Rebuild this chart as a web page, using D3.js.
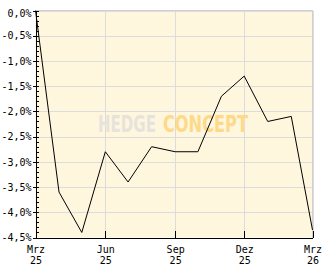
<!DOCTYPE html>
<html>
<head>
<meta charset="utf-8">
<script src="https://cdn.jsdelivr.net/npm/d3@7"></script>
<style>
  body { margin: 0; background: #fff; }
  svg { display: block; }
  text { font-family: "DejaVu Sans Mono", monospace; font-size: 10px; fill: #000; }
</style>
</head>
<body>
<svg id="chart" width="332" height="269"></svg>
<script>
// monthly performance, Mar 2025 .. Mar 2026
const months = ["2025-03", "2025-04", "2025-05", "2025-06", "2025-07", "2025-08", "2025-09",
                "2025-10", "2025-11", "2025-12", "2026-01", "2026-02", "2026-03"];
const values = [0.0, -3.6, -4.4, -2.8, -3.4, -2.7, -2.8, -2.8, -1.7, -1.3, -2.2, -2.1, -4.35];

const yTicks = [0, -0.5, -1.0, -1.5, -2.0, -2.5, -3.0, -3.5, -4.0, -4.5];
const xTickMonths = ["2025-03", "2025-06", "2025-09", "2025-12", "2026-03"];
const xTickLabels = [["Mrz", "25"], ["Jun", "25"], ["Sep", "25"], ["Dez", "25"], ["Mrz", "26"]];

const parse = d3.timeParse("%Y-%m");
const data = months.map((m, i) => ({ date: parse(m), value: values[i] }));

const svg = d3.select("#chart");
const plot = { left: 35.5, right: 312.5, top: 10.5, bottom: 237.5 };

const x = d3.scaleTime()
  .domain([parse(months[0]), parse(months[months.length - 1])])
  .range([plot.left, plot.right]);

const y = d3.scaleLinear()
  .domain([-4.5, 0])
  .range([plot.bottom, plot.top]);

const fmt = d => d.toFixed(1).replace(".", ",") + "%";

// plot background
svg.append("rect")
  .attr("x", plot.left).attr("y", plot.top)
  .attr("width", plot.right - plot.left).attr("height", plot.bottom - plot.top)
  .attr("fill", "#fff6de");

// grid
svg.append("g")
  .attr("transform", `translate(${plot.left},0)`)
  .call(d3.axisLeft(y).tickValues(yTicks).tickSize(-(plot.right - plot.left)).tickFormat(""))
  .call(g => g.select(".domain").remove())
  .call(g => g.selectAll("line").attr("stroke", "#dcdcdc").attr("shape-rendering", "crispEdges"));

svg.append("g")
  .attr("transform", `translate(0,${plot.bottom})`)
  .call(d3.axisBottom(x).tickValues(xTickMonths.map(parse)).tickSize(-(plot.bottom - plot.top)).tickFormat(""))
  .call(g => g.select(".domain").remove())
  .call(g => g.selectAll("line").attr("stroke", "#dcdcdc").attr("shape-rendering", "crispEdges"));

// border top / right
svg.append("path")
  .attr("d", `M${plot.left},${plot.top}H${plot.right}V${plot.bottom}`)
  .attr("fill", "none")
  .attr("stroke", "#d0d0d0")
  .attr("shape-rendering", "crispEdges");

// watermark, each word squeezed to its width in the logo
const logo = [
  { text: "HEDGE", x: 98, w: 58, color: "#e6e3dc" },
  { text: "CONCEPT", x: 163, w: 85, color: "#fdd98a" }
];
logo.forEach(l => {
  const t = svg.append("text")
    .style("font-family", "'DejaVu Sans Condensed', sans-serif")
    .style("font-size", "23px").style("font-weight", "bold")
    .style("fill", l.color)
    .text(l.text);
  const k = l.w / t.node().getComputedTextLength();
  t.attr("transform", `translate(${l.x},132) scale(${k},1)`);
});

// line
const line = d3.line()
  .x(d => x(d.date))
  .y(d => y(d.value));

svg.append("path")
  .datum(data)
  .attr("fill", "none")
  .attr("stroke", "#000")
  .attr("stroke-width", 1)
  .attr("d", line);

// y axis: minor ticks inside
const minor = d3.range(0, 46).map(i => -i / 10);
svg.append("g")
  .attr("transform", `translate(${plot.left},0)`)
  .call(d3.axisRight(y).tickValues(minor).tickSize(3).tickFormat(""))
  .call(g => g.select(".domain").remove())
  .call(g => g.selectAll("line").attr("shape-rendering", "crispEdges"));

// y axis: major ticks + labels
svg.append("g")
  .attr("transform", `translate(${plot.left},0)`)
  .call(d3.axisLeft(y).tickValues(yTicks).tickSizeInner(3).tickSizeOuter(0).tickPadding(1).tickFormat(fmt))
  .call(g => g.selectAll("line, path").attr("shape-rendering", "crispEdges"))
  .call(g => g.selectAll("text")
    .style("font-family", "'DejaVu Sans Mono', monospace")
    .style("font-size", "10px")
    .attr("fill", "#000")
    .attr("dy", d => d === 0 ? "0.62em" : "0.32em"));

// x axis
svg.append("g")
  .attr("transform", `translate(0,${plot.bottom})`)
  .call(d3.axisBottom(x).tickValues(xTickMonths.map(parse)).tickSizeInner(-7).tickSizeOuter(0).tickPadding(8).tickFormat(""))
  .call(g => g.selectAll("line, path").attr("shape-rendering", "crispEdges"))
  .call(g => g.selectAll(".tick text")
    .style("font-family", "'DejaVu Sans Mono', monospace")
    .style("font-size", "10px")
    .attr("fill", "#000")
    .attr("dy", null)
    .attr("y", 15)
    .each(function(d, i) {
      const t = d3.select(this);
      t.append("tspan").attr("x", 0).text(xTickLabels[i][0]);
      t.append("tspan").attr("x", 0).attr("dy", 11).text(xTickLabels[i][1]);
    }));
</script>
</body>
</html>
